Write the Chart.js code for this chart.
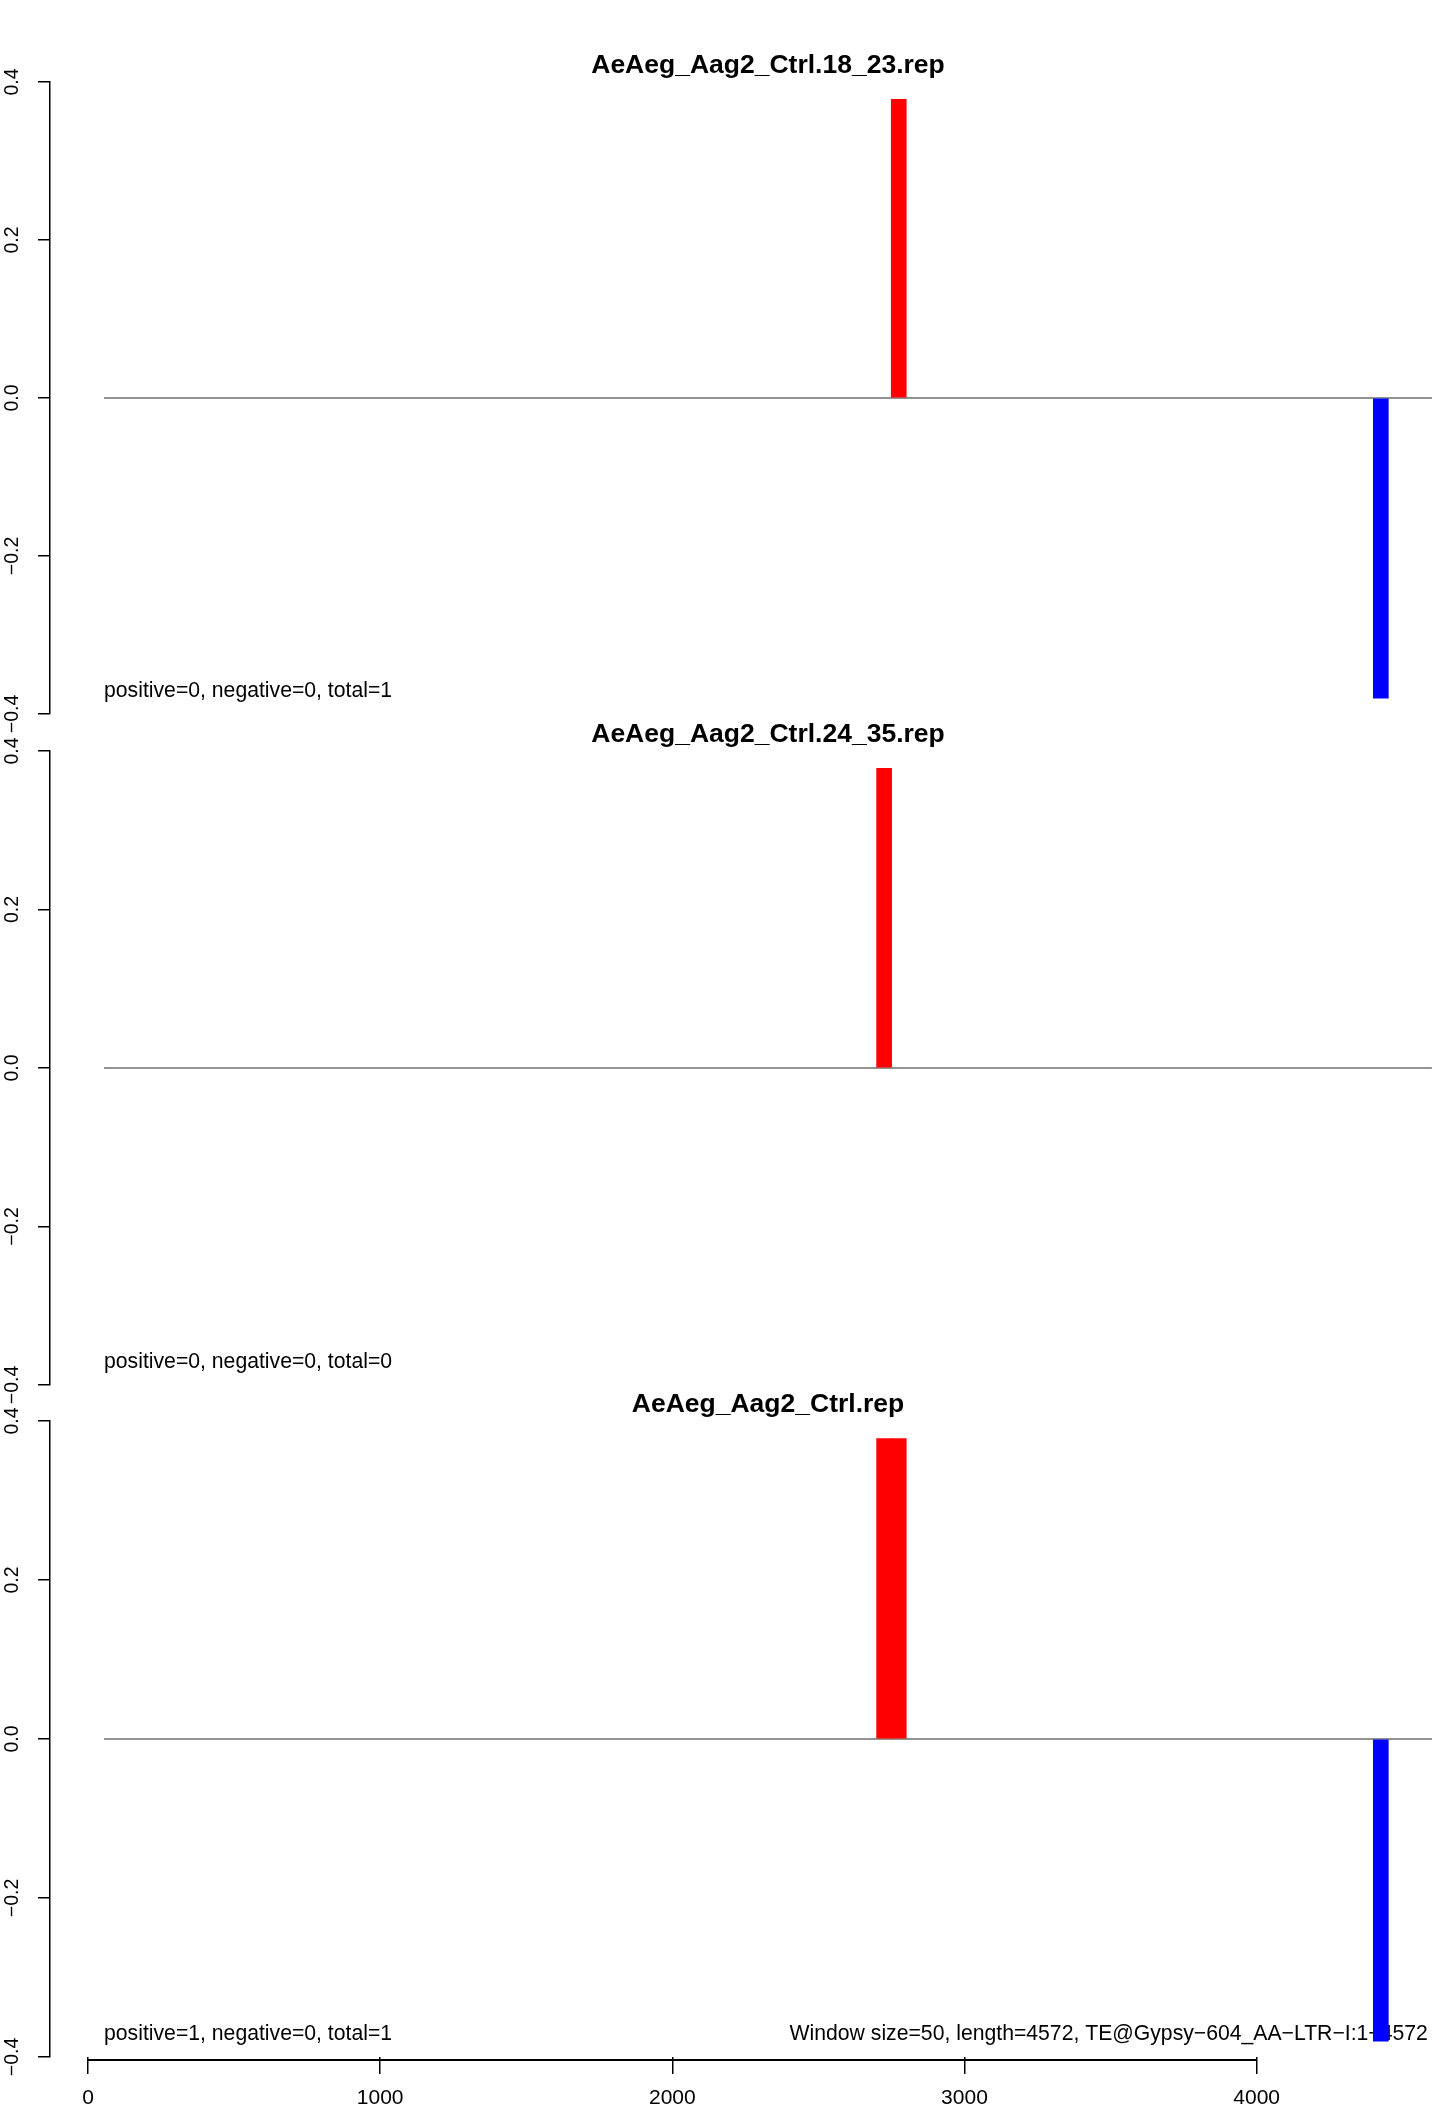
<!DOCTYPE html>
<html>
<head>
<meta charset="utf-8">
<script src="https://cdn.jsdelivr.net/npm/chart.js@4.4.1/dist/chart.umd.min.js"></script>
<style>
  body { margin: 0; background: #fff; }
  #wrap { position: relative; width: 1441px; height: 2112px; }
  canvas { position: absolute; left: 0; }
</style>
</head>
<body>
<div id="wrap">
  <canvas id="p1" width="1441" height="740" style="top:0px"></canvas>
  <canvas id="p2" width="1441" height="740" style="top:671px"></canvas>
  <canvas id="p3" width="1441" height="770" style="top:1342px"></canvas>
</div>
<script>
const titles = ['AeAeg_Aag2_Ctrl.18_23.rep', 'AeAeg_Aag2_Ctrl.24_35.rep', 'AeAeg_Aag2_Ctrl.rep'];
const counts = ['positive=0, negative=0, total=1', 'positive=0, negative=0, total=0', 'positive=1, negative=0, total=1'];
const footer = 'Window size=50, length=4572, TE@Gypsy\u2212604_AA\u2212LTR\u2212I:1\u22124572';

// window centres (bp) and heights, one list per panel
const posX = [[2775], [2725], [2725, 2775]];
const posY = [[0.378], [0.378], [0.378, 0.378]];
const negX = [[4425], [], [4425]];
const negY = [[-0.38], [], [-0.38]];

const yTicks = [-0.4, -0.2, 0, 0.2, 0.4];
const xTicks = [0, 1000, 2000, 3000, 4000];

const FONT = '"Liberation Sans", Arial, sans-serif';
const pads = [{ top: 82, bottom: 26 }, { top: 80, bottom: 26 }, { top: 79, bottom: 0 }];

function fmt(v) {
  return v.toFixed(1).replace('-', '\u2212');
}

function panelText(i) {
  return {
    id: 'panelText',
    beforeDatasetsDraw(chart) {
      const { ctx, scales: { x, y } } = chart;
      ctx.save();
      ctx.fillStyle = '#000';
      ctx.font = 'bold 26.5px ' + FONT;
      ctx.textAlign = 'center';
      ctx.textBaseline = 'alphabetic';
      ctx.fillText(titles[i], 768, y.getPixelForValue(0.411));

      ctx.font = '21.2px ' + FONT;
      ctx.textAlign = 'left';
      ctx.fillText(counts[i], x.getPixelForValue(55), y.getPixelForValue(-0.378));
      if (i === 2) {
        ctx.textAlign = 'right';
        ctx.fillText(footer, x.getPixelForValue(4586), y.getPixelForValue(-0.378));
      }

      // rotated y labels like R's las=0
      ctx.font = '19.5px ' + FONT;
      ctx.textAlign = 'center';
      ctx.textBaseline = 'middle';
      yTicks.forEach(v => {
        ctx.save();
        ctx.translate(13, y.getPixelForValue(v));
        ctx.rotate(-Math.PI / 2);
        ctx.fillText(fmt(v), 0, 0);
        ctx.restore();
      });
      ctx.restore();
    },
    afterDraw(chart) {
      if (i !== 2) return;
      const { ctx, chartArea, scales: { x } } = chart;
      ctx.save();
      ctx.strokeStyle = '#000';
      ctx.lineWidth = 2;
      ctx.beginPath();
      ctx.moveTo(x.getPixelForValue(xTicks[0]), chartArea.bottom + 3);
      ctx.lineTo(x.getPixelForValue(xTicks[xTicks.length - 1]), chartArea.bottom + 3);
      ctx.stroke();
      ctx.restore();
    }
  };
}

function makeChart(i) {
  const last = i === 2;
  return new Chart(document.getElementById('p' + (i + 1)), {
    type: 'bar',
    data: {
      datasets: [
        {
          type: 'line',
          data: [{ x: 55, y: 0 }, { x: 4600, y: 0 }],
          borderColor: '#6e6e6e',
          borderWidth: 1.5,
          pointRadius: 0,
          order: 3
        },
        {
          data: posX[i].map((v, k) => ({ x: v, y: posY[i][k] })),
          backgroundColor: '#ff0000',
          barThickness: 15,
          grouped: false,
          borderWidth: 0
        },
        {
          data: negX[i].map((v, k) => ({ x: v, y: negY[i][k] })),
          backgroundColor: '#0000ff',
          barThickness: 15,
          grouped: false,
          borderWidth: 0
        }
      ]
    },
    options: {
      responsive: false,
      animation: false,
      layout: { padding: { top: pads[i].top, bottom: pads[i].bottom, left: 0, right: 0 } },
      plugins: { legend: { display: false }, tooltip: { enabled: false } },
      scales: {
        x: {
          type: 'linear',
          min: -130,
          max: 4631,
          offset: false,
          display: last,
          afterBuildTicks: s => { s.ticks = xTicks.map(v => ({ value: v })); },
          afterFit: s => { s.height = last ? 55 : 0; },
          border: { display: false },
          grid: { offset: false, drawOnChartArea: false, color: '#000', lineWidth: 1.5, tickLength: 17 },
          ticks: {
            color: '#000', padding: 12, maxRotation: 0,
            font: { family: FONT, size: 21 },
            callback: v => String(v)
          }
        },
        y: {
          min: -0.4,
          max: 0.4,
          afterBuildTicks: s => { s.ticks = yTicks.map(v => ({ value: v })); },
          afterFit: s => { s.width = 50; },
          border: { display: true, color: '#000', width: 1.5 },
          grid: { offset: false, drawOnChartArea: false, color: '#000', lineWidth: 1.5, tickLength: 12 },
          ticks: { display: false }
        }
      }
    },
    plugins: [panelText(i)]
  });
}

[0, 1, 2].forEach(makeChart);
</script>
</body>
</html>
